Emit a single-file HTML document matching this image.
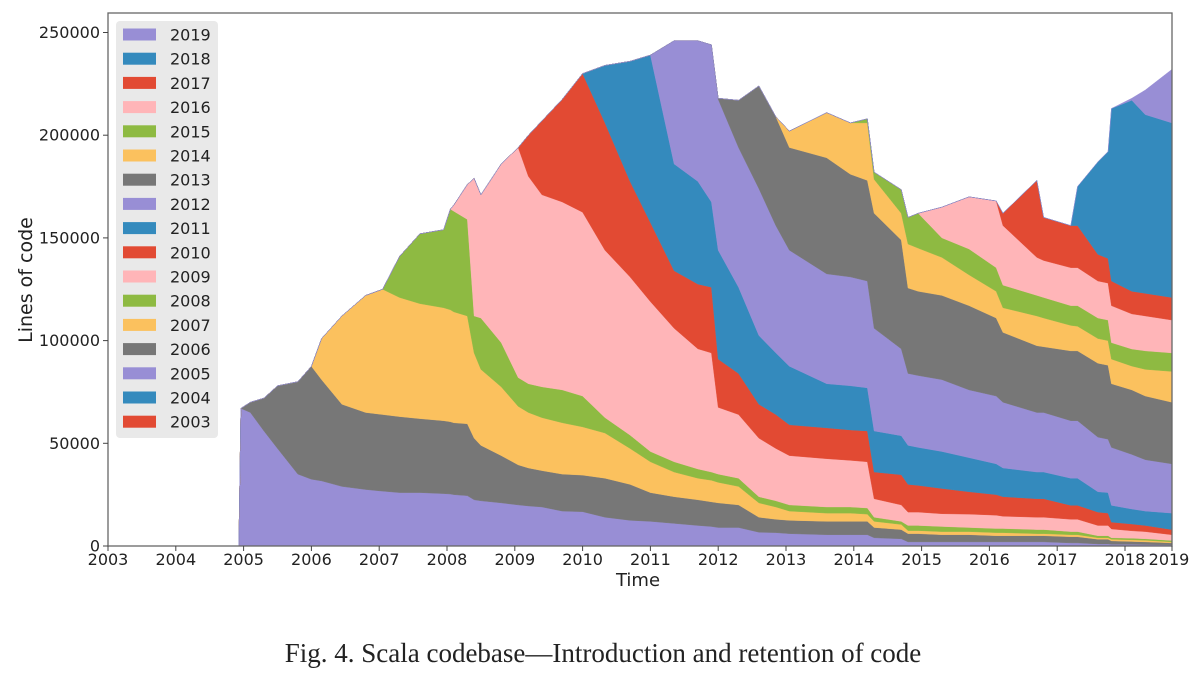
<!DOCTYPE html>
<html><head><meta charset="utf-8">
<style>
html,body{margin:0;padding:0;background:#fff;}
svg{display:block;}
text{font-family:"DejaVu Sans","Liberation Sans",sans-serif;fill:#222;}
</style></head>
<body>
<svg id="chart" width="1200" height="679" viewBox="0 0 1200 679" xmlns="http://www.w3.org/2000/svg">
  <g id="layers"></g>
  <rect x="108" y="13" width="1064" height="533" fill="none" stroke="#666" stroke-width="1.3"/>
  <g id="yaxis"></g>
  <g id="xaxis"></g>
  <text x="32" y="280" font-size="19" text-anchor="middle" transform="rotate(-90 32 280)">Lines of code</text>
  <text x="638" y="586" font-size="18" text-anchor="middle">Time</text>
  <g id="legend"></g>
  <text x="603" y="662" font-size="27" text-anchor="middle" style="font-family:'Liberation Serif',serif">Fig. 4.  Scala codebase—Introduction and retention of code</text>
</svg>
<script>
const times = [2004.93,2004.96,2005.1,2005.3,2005.5,2005.8,2006.0,2006.15,2006.45,2006.8,2007.05,2007.3,2007.6,2007.95,2008.05,2008.1,2008.3,2008.4,2008.5,2008.8,2009.05,2009.2,2009.4,2009.7,2010.0,2010.33,2010.7,2011.0,2011.35,2011.7,2011.9,2012.0,2012.3,2012.6,2012.85,2013.05,2013.6,2013.95,2014.2,2014.3,2014.7,2014.8,2014.95,2015.3,2015.7,2016.1,2016.2,2016.7,2016.8,2017.2,2017.3,2017.6,2017.75,2017.8,2018.1,2018.3,2018.69];
// cumulative stack tops (thousand lines) per cohort; null = cohort not yet introduced
const n = (k) => Array(k).fill(null);
const cohorts = ["2019","2018","2017","2016","2015","2014","2013","2012","2011","2010","2009","2008","2007","2006","2005","2004","2003"];
const top2005 = [0,67,65,56,47.5,35,32.5,31.7,29,27.5,26.7,26,26,25.5,25.3,25,24.5,22.5,22,21,20,19.5,19,17,16.7,14,12.5,12,11,10,9.5,9,9,6.7,6.5,6,5.5,5.5,5.5,4,3.5,2,2,2,2,2,2,2,2,1.5,1.5,1,1,0.8,0.8,0.7,0.5];
const top2006 = [null,null,70,72,78,80,87.5,81,69,65,64,63,62,61,60.5,60,59.5,52.5,49,44,39.5,38,36.7,35,34.5,33,30,26,24,22.5,21.5,21,20,14,13,12.5,12,12,12,9,8,6,6,5.5,5.5,5,5,5,5,4.5,4.5,3.3,3.3,2.5,2.2,2,1.5];
const top2007 = n(7).concat([101,112,122,125,121,118,116,115,114,112,94,86,77.5,68,65,62.5,60,58,55,47.5,41,36,33,32,31,29,21,19,17,16,16,15.5,12,10.5,7.5,7.5,7,7,6.5,6.5,6,6,5.5,5.5,4,4,3.3,3,2.8,2.0]);
const top2008 = n(11).concat([141,152,154,164,163,159,112,111,99,82,79,77.5,76,73,62.5,54,46,41,37.5,36,35,33,24,22,20,19,19,18.5,14,12,10,10,9.5,9,8.5,8.5,8,8,7,7,5,5,4,3.8,3.5,2.7]);
const top2009 = n(15).concat([166,176,179,171,186,194,180,171,167.5,162.5,144,131,119,106,96,94,67.5,64,52.5,47.5,44,42.5,41.7,41,23,20,16.5,16.5,15.7,15.5,15,14.5,14,14,13,13,10,10,8.3,7.4,7,5.5]);
const top2010 = n(21).concat([200,207,217.5,230,206,177.5,157.5,134,127.5,126,91,84,69,64,59,57.5,56.5,56,36,34.7,30,29.5,28,26.4,25,24,23,23,19.8,19.8,16.5,16,11.6,10.7,10,8]);
const top2011 = n(25).concat([234,236,239,186,177.5,167.5,144,126,102.5,94,87.5,79,78,77,56,53.7,49,48,46,43,40,38,36,36,33,33,26.4,26,19.8,18,17,16]);
const top2012 = n(28).concat([246,246,244,217.5,194,174,156,144,132.5,131,129,106,96,84,83,81,76,73,70,65,65,61,61,53,52,48,44.6,42,40]);
const top2013 = n(31).concat([218,217,224,209,194,189,181,178,162,149,125.6,124,122,117,111,104,97.5,97,95,95,89,88,79,76,73,70]);
const top2014 = n(35).concat([202,211,206,206,178.5,162,147,145,140.5,132,124,116,112,111,107.4,107,101,100,91,87.6,86,85]);
const top2015 = n(38).concat([208,182,173.5,160,162,150,144.6,135.5,127,122,121,117,117,111,110,99,95.9,95,94]);
const top2016 = n(43).concat([165,170,168,156,140.5,139,135.5,135.5,129,128,117,113,112,110]);
const top2017 = n(46).concat([162,178,160,156,156,142,140,129,124,123,121]);
const top2018 = n(50).concat([175,187,192,213,217,210,206]);
const top2019 = n(54).concat([218,222,232]);
const stackOrder = ["2005","2006","2007","2008","2009","2010","2011","2012","2013","2014","2015","2016","2017","2018","2019"];
const stackTops = [top2005,top2006,top2007,top2008,top2009,top2010,top2011,top2012,top2013,top2014,top2015,top2016,top2017,top2018,top2019];
const yTicks = [0,50000,100000,150000,200000,250000];
const xTicks = [2003,2004,2005,2006,2007,2008,2009,2010,2011,2012,2013,2014,2015,2016,2017,2018];
const xTickLabels = ["2003","2004","2005","2006","2007","2008","2009","2010","2011","2012","2013","2014","2015","2016","2017","2018"];

const palette = ["#E24A33","#348ABD","#988ED5","#777777","#FBC15E","#8EBA42","#FFB5B8"];
const colorOf = (year) => palette[(parseInt(year) - 2003) % 7];
const X = (t) => 108 + (t - 2003) * 67.8;
const Y = (v) => 546 - v / 1000 * 2.054;
const NS = "http://www.w3.org/2000/svg";
const mk = (tag, attrs) => { const e = document.createElementNS(NS, tag); for (const k in attrs) e.setAttribute(k, attrs[k]); return e; };

const layersG = document.getElementById("layers");
let prev = times.map(() => 0);
stackTops.forEach((arr, li) => {
  const cur = arr.map((v, i) => (v === null ? prev[i] : Math.max(v, prev[i])));
  let pts = [];
  for (let i = 0; i < times.length; i++) pts.push(X(times[i]).toFixed(2) + "," + Y(cur[i] * 1000).toFixed(2));
  for (let i = times.length - 1; i >= 0; i--) pts.push(X(times[i]).toFixed(2) + "," + Y(prev[i] * 1000).toFixed(2));
  const p = mk("polygon", { points: pts.join(" "), fill: colorOf(stackOrder[li]), stroke: colorOf(stackOrder[li]), "stroke-width": "0.4" });
  
  
  layersG.appendChild(p);
  prev = cur;
});

const yG = document.getElementById("yaxis");
yTicks.forEach(v => {
  const y = Y(v);
  const l = mk("line", { x1: 103, x2: 108, y1: y, y2: y, stroke: "#444", "stroke-width": 1 });
  
  
  yG.appendChild(l);
  const t = mk("text", { x: 100, y: y + 5.5, "font-size": 16, "text-anchor": "end" });
  t.textContent = String(v);
  
  
  yG.appendChild(t);
});

const xG = document.getElementById("xaxis");
xTicks.forEach((yr, i) => {
  const x = X(yr);
  const l = mk("line", { x1: x, x2: x, y1: 546, y2: 551, stroke: "#444", "stroke-width": 1 });
  
  
  xG.appendChild(l);
  const t = mk("text", { x: x, y: 565, "font-size": 16, "text-anchor": "middle" });
  t.textContent = xTickLabels[i];
  
  
  xG.appendChild(t);
});
{
  const l = mk("line", { x1: 1172, x2: 1172, y1: 546, y2: 551, stroke: "#444", "stroke-width": 1 });
  
  
  xG.appendChild(l);
  const t = mk("text", { x: 1169, y: 565, "font-size": 16, "text-anchor": "middle" });
  t.textContent = "2019";
  
  
  xG.appendChild(t);
}

const lg = document.getElementById("legend");
const bg = mk("rect", { x: 116, y: 21, width: 102, height: 417, rx: 4, fill: "#e8e8e8", "fill-opacity": 0.95 });


lg.appendChild(bg);
cohorts.forEach((c, i) => {
  const y = 34.5 + i * 24.2;
  const r = mk("rect", { x: 123, y: y - 6, width: 33, height: 12, fill: colorOf(c) });
  
  
  lg.appendChild(r);
  const t = mk("text", { x: 170, y: y + 6, "font-size": 16 });
  t.textContent = c;
  
  
  lg.appendChild(t);
});
</script>
</body></html>
